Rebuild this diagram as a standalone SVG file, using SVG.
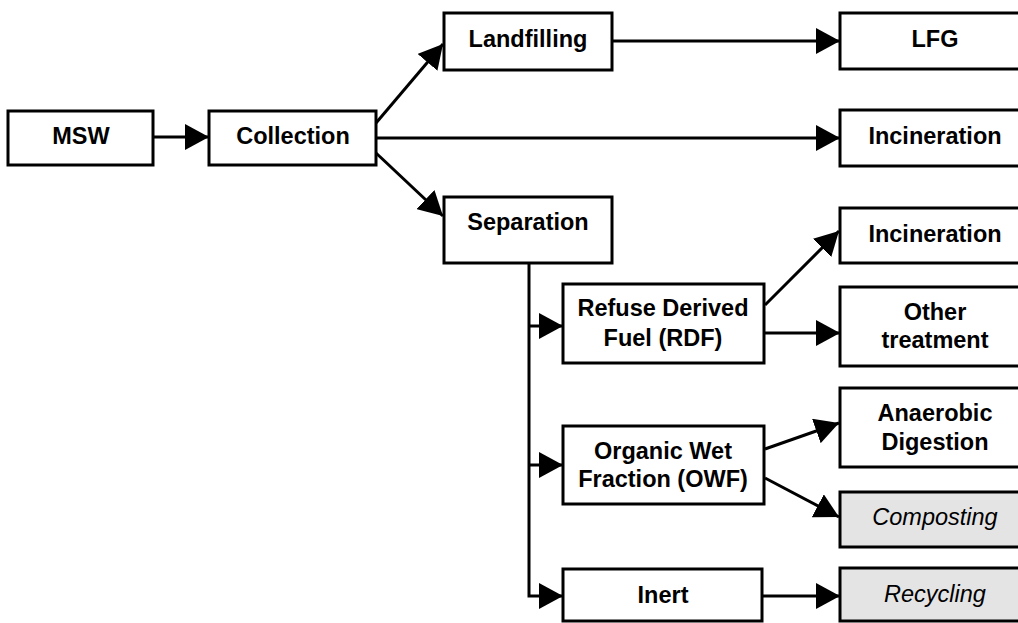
<svg xmlns="http://www.w3.org/2000/svg" width="1018" height="623" viewBox="0 0 1018 623">
<defs>
<style>
.box{fill:#fff;stroke:#000;stroke-width:3}
.grey{fill:#e4e4e4;stroke:#000;stroke-width:3}
.t{font-family:"Liberation Sans",Arial,sans-serif;font-size:23.5px;font-weight:bold;fill:#000;text-anchor:middle}
.ti{font-family:"Liberation Sans",Arial,sans-serif;font-size:23.5px;font-style:italic;fill:#000;text-anchor:middle}
.c{fill:none;stroke:#000;stroke-width:3}
</style>
<marker id="ah" markerUnits="userSpaceOnUse" markerWidth="24" markerHeight="26" refX="24" refY="13" orient="auto" viewBox="0 0 24 26">
<path d="M0,0 L24,13 L0,26 z" fill="#000"/>
</marker>
</defs>
<rect width="1018" height="623" fill="#fff"/>
<g id="connectors">
<line class="c" x1="153" y1="137" x2="209" y2="137" marker-end="url(#ah)"/>
<line class="c" x1="376" y1="123" x2="443" y2="44" marker-end="url(#ah)"/>
<line class="c" x1="377" y1="138" x2="840" y2="138" marker-end="url(#ah)"/>
<line class="c" x1="376" y1="153" x2="443" y2="216" marker-end="url(#ah)"/>
<line class="c" x1="612" y1="41" x2="840" y2="41" marker-end="url(#ah)"/>
<polyline class="c" points="529,263 529,596 563,596" marker-end="url(#ah)"/>
<line class="c" x1="529" y1="326" x2="563" y2="326" marker-end="url(#ah)"/>
<line class="c" x1="529" y1="465" x2="563" y2="465" marker-end="url(#ah)"/>
<line class="c" x1="765" y1="305" x2="839" y2="231" marker-end="url(#ah)"/>
<line class="c" x1="764" y1="333" x2="840" y2="333" marker-end="url(#ah)"/>
<line class="c" x1="765" y1="449" x2="839" y2="423" marker-end="url(#ah)"/>
<line class="c" x1="765" y1="478" x2="839" y2="517" marker-end="url(#ah)"/>
<line class="c" x1="762" y1="596" x2="840" y2="596" marker-end="url(#ah)"/>
</g>
<g id="msw"><rect class="box" x="8" y="111" width="145" height="54"/><text class="t" x="81" y="144">MSW</text></g>
<g id="collection"><rect class="box" x="209" y="111" width="167" height="54"/><text class="t" x="293" y="144">Collection</text></g>
<g id="landfilling"><rect class="box" x="444" y="13" width="168" height="57"/><text class="t" x="528" y="47">Landfilling</text></g>
<g id="separation"><rect class="box" x="444" y="197" width="168" height="66"/><text class="t" x="528" y="230">Separation</text></g>
<g id="lfg"><rect class="box" x="840" y="13" width="190" height="56"/><text class="t" x="935" y="47">LFG</text></g>
<g id="incineration1"><rect class="box" x="840" y="110" width="190" height="56"/><text class="t" x="935" y="144">Incineration</text></g>
<g id="rdf"><rect class="box" x="563" y="284" width="201" height="79"/><text class="t" x="663" y="316">Refuse Derived</text><text class="t" x="663" y="346">Fuel (RDF)</text></g>
<g id="incineration2"><rect class="box" x="840" y="208" width="190" height="55"/><text class="t" x="935" y="242">Incineration</text></g>
<g id="other"><rect class="box" x="840" y="287" width="190" height="79"/><text class="t" x="935" y="320">Other</text><text class="t" x="935" y="348">treatment</text></g>
<g id="owf"><rect class="box" x="563" y="426" width="201" height="78"/><text class="t" x="663" y="459">Organic Wet</text><text class="t" x="663" y="487">Fraction (OWF)</text></g>
<g id="anaerobic"><rect class="box" x="840" y="388" width="190" height="79"/><text class="t" x="935" y="421">Anaerobic</text><text class="t" x="935" y="450">Digestion</text></g>
<g id="composting"><rect class="grey" x="840" y="492" width="190" height="55"/><text class="ti" x="935" y="525">Composting</text></g>
<g id="inert"><rect class="box" x="563" y="569" width="199" height="52"/><text class="t" x="663" y="603">Inert</text></g>
<g id="recycling"><rect class="grey" x="840" y="568" width="190" height="53"/><text class="ti" x="935" y="602">Recycling</text></g>
</svg>
